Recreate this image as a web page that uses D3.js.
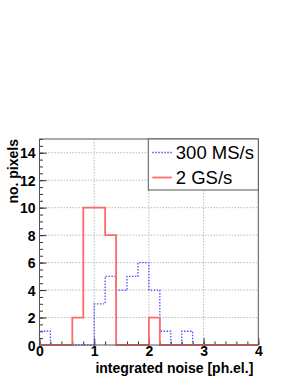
<!DOCTYPE html>
<html>
<head>
<meta charset="utf-8">
<script src="https://cdn.jsdelivr.net/npm/d3@7"></script>
<style>
  body { margin: 0; background: #fff; }
  svg { display: block; font-family: "Liberation Sans", Arial, sans-serif; }
</style>
</head>
<body>
<div id="chart"></div>
<script>
// bin lower edges (width 0.2), last entry is the upper edge of the last bin
const binEdges = [0, 0.2, 0.4, 0.6, 0.8, 1.0, 1.2, 1.4, 1.6, 1.8, 2.0,
  2.2, 2.4, 2.6, 2.8, 3.0, 3.2, 3.4, 3.6, 3.8, 4.0];
const ms300 = [1, 0, 0, 0, 0, 3, 5, 4, 5, 6, 4, 1, 0, 1, 0, 0, 0, 0, 0, 0];
const gs2 = [0, 0, 0, 2, 10, 10, 8, 0, 0, 0, 2, 0, 0, 0, 0, 0, 0, 0, 0, 0];
const xTicks = [0, 1, 2, 3, 4];
const yTicks = [0, 2, 4, 6, 8, 10, 12, 14];
const legendNames = ["300 MS/s", "2 GS/s"];

const W = 295, H = 382;
const MARGIN = { TOP: 139, BOTTOM: 37, LEFT: 39.5, RIGHT: 36.7 };
const WIDTH = W - MARGIN.LEFT - MARGIN.RIGHT;
const HEIGHT = H - MARGIN.TOP - MARGIN.BOTTOM;

const BLUE = "#5050ff";
const RED = "#ff6a6a";

const svg = d3.select("#chart").append("svg")
  .attr("width", W).attr("height", H);
const g = svg.append("g")
  .attr("transform", `translate(${MARGIN.LEFT}, ${MARGIN.TOP})`);

const x = d3.scaleLinear().domain([0, 4]).range([0, WIDTH]);
const y = d3.scaleLinear().domain([0, 15]).range([HEIGHT, 0]);

// GRID
g.selectAll(".gx").data(xTicks.slice(1, -1)).enter().append("line")
  .attr("x1", d => x(d)).attr("x2", d => x(d))
  .attr("y1", 0).attr("y2", HEIGHT)
  .attr("stroke", "#aaa").attr("stroke-width", 0.8)
  .attr("stroke-dasharray", "1.5,1.5");
g.selectAll(".gy").data(yTicks.slice(1)).enter().append("line")
  .attr("x1", 0).attr("x2", WIDTH)
  .attr("y1", d => y(d)).attr("y2", d => y(d))
  .attr("stroke", "#aaa").attr("stroke-width", 0.8)
  .attr("stroke-dasharray", "1.5,1.5");

// AXES (ROOT style, ticks inside)
const xAxis = d3.axisBottom(x).tickValues(xTicks).tickSize(-7).tickFormat(d3.format("d"));
const xMinor = d3.axisBottom(x).tickValues(binEdges).tickSize(-3.5).tickFormat("");
const yAxis = d3.axisLeft(y).tickValues(yTicks).tickSize(-7).tickFormat(d3.format("d"));
const yMinor = d3.axisLeft(y).ticks(30).tickSize(-3.5).tickFormat("");

function styleAxis(sel) {
  sel.select(".domain").remove();
  sel.selectAll("line").attr("stroke", "#333");
  sel.selectAll("text")
    .attr("font-size", 14).attr("font-weight", "bold")
    .attr("fill", "#000")
    .attr("font-family", "'Liberation Sans', Arial, sans-serif");
}
g.append("g").attr("transform", `translate(0, ${HEIGHT})`).call(xMinor).call(styleAxis);
g.append("g").attr("transform", `translate(0, ${HEIGHT})`).call(xAxis).call(styleAxis)
  .selectAll("text").attr("y", 1.5).attr("dy", "0.71em");
g.append("g").call(yMinor).call(styleAxis);
g.append("g").call(yAxis).call(styleAxis)
  .selectAll("text").attr("x", -4).attr("dy", "0.36em");

// HISTOGRAMS
function stepPoints(vals) {
  const pts = [[binEdges[0], 0]];
  vals.forEach((v, i) => pts.push([binEdges[i], v]));
  pts.push([binEdges[binEdges.length - 1], vals[vals.length - 1]]);
  pts.push([binEdges[binEdges.length - 1], 0]);
  return pts;
}
const line = d3.line().x(d => x(d[0])).y(d => y(d[1])).curve(d3.curveStepAfter);

g.append("path").datum(stepPoints(ms300))
  .attr("d", line).attr("fill", "none")
  .attr("stroke", BLUE).attr("stroke-width", 1.3)
  .attr("stroke-dasharray", "1.5,1.5");
g.append("path").datum(stepPoints(gs2))
  .attr("d", line).attr("fill", "none")
  .attr("stroke", RED).attr("stroke-width", 1.8);

// FRAME
g.append("rect").attr("width", WIDTH).attr("height", HEIGHT)
  .attr("fill", "none").attr("stroke", "#555").attr("stroke-width", 1);

// AXIS TITLES
g.append("text")
  .attr("x", WIDTH - 5).attr("y", HEIGHT + 27.5)
  .attr("text-anchor", "end").attr("font-size", 14).attr("font-weight", "bold")
  .text("integrated noise [ph.el.]");
g.append("text")
  .attr("transform", "rotate(-90)")
  .attr("x", 0).attr("y", -22)
  .attr("text-anchor", "end").attr("font-size", 14).attr("font-weight", "bold")
  .text("no. pixels");

// LEGEND
const lx0 = 148.3 - MARGIN.LEFT;
const lg = g.append("g");
lg.append("rect")
  .attr("x", lx0).attr("y", 0)
  .attr("width", WIDTH - lx0).attr("height", 51)
  .attr("fill", "#fff").attr("stroke", "#555").attr("stroke-width", 1);
const legendRows = lg.selectAll(".row").data(legendNames).enter().append("g")
  .attr("transform", (d, i) => `translate(${lx0}, ${13.5 + i * 25})`);
legendRows.append("line")
  .attr("x1", 4).attr("x2", 23.5).attr("y1", 0).attr("y2", 0)
  .attr("stroke", (d, i) => i === 0 ? BLUE : RED)
  .attr("stroke-width", (d, i) => i === 0 ? 1.3 : 1.8)
  .attr("stroke-dasharray", (d, i) => i === 0 ? "1.5,1.5" : null);
legendRows.append("text")
  .attr("x", 27.5).attr("y", 0).attr("dy", "0.36em")
  .attr("font-size", 18.5)
  .text(d => d);
</script>
</body>
</html>
